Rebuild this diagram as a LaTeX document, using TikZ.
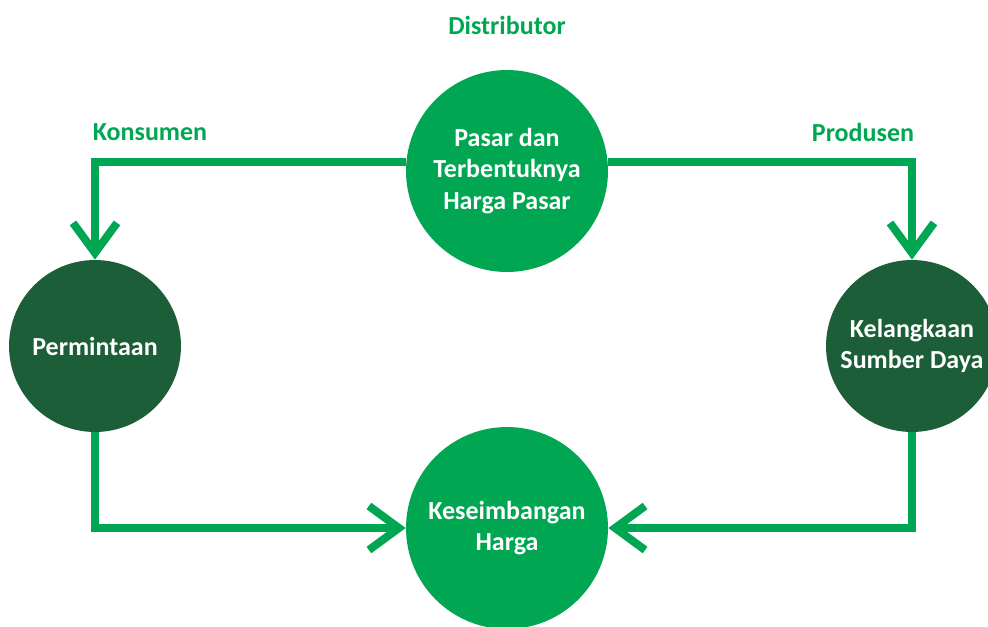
\documentclass[tikz,border=0pt]{standalone}
\usepackage{fontspec}
\setmainfont{Carlito}
\usetikzlibrary{arrows.meta}
\definecolor{marketgreen}{HTML}{00A651}
\definecolor{deepgreen}{HTML}{1B5E37}
\begin{document}
\begin{tikzpicture}[x=0.02cm,y=-0.02cm,
  bubble/.style={circle,fill=#1,text=white,align=center,inner sep=0pt,font=\bfseries\fontsize{14.8}{18}\selectfont},
  bigbubble/.style={bubble=marketgreen,minimum size=4.04cm},
  smallbubble/.style={bubble=deepgreen,minimum size=3.44cm},
  tag/.style={text=marketgreen,font=\bfseries\fontsize{14.8}{18}\selectfont},
  flow/.style={draw=marketgreen,line width=0.16cm,-{Straight Barb[sharp,length=0.6cm,width=0.88cm]}}]
\useasboundingbox (0,0) rectangle (988,626);
\node[bigbubble] (market) at (507,171) {Pasar dan\\Terbentuknya\\Harga Pasar};
\node[smallbubble] (demand) at (95,346) {Permintaan};
\node[smallbubble] (scarcity) at (912,346) {Kelangkaan\\Sumber Daya};
\node[bigbubble] (balance) at (507,528) {Keseimbangan\\Harga};
\node[tag] (distributor) at (507,25) {Distributor};
\node[tag] (consumer) at (150,132) {Konsumen};
\node[tag] (producer) at (863,132) {Produsen};
\draw[flow] (market.175) -| (demand.north);
\draw[flow] (market.5) -| (scarcity.north);
\draw[flow] (demand.south) |- (balance.west);
\draw[flow] (scarcity.south) |- (balance.east);
\end{tikzpicture}
\end{document}
